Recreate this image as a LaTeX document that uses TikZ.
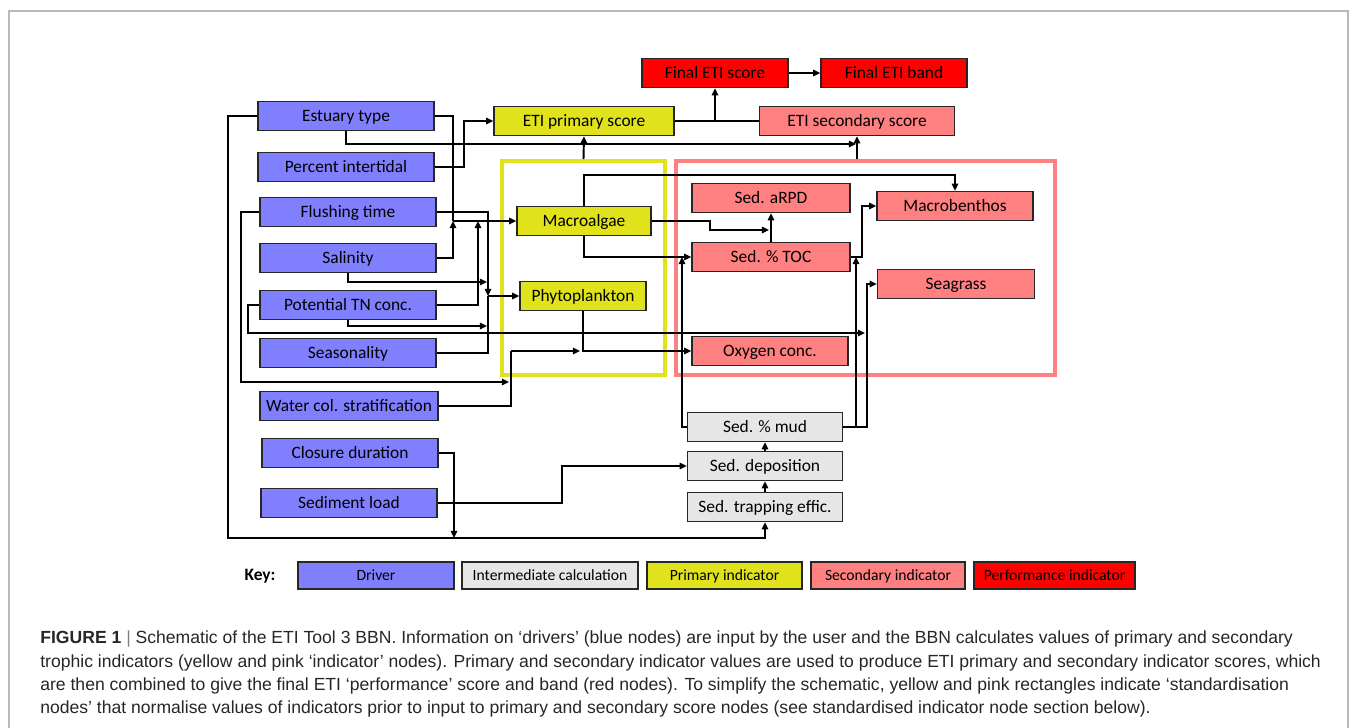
\documentclass[tikz,border=0pt]{standalone}
\usepackage{fontspec}
\setmainfont{Carlito}
\newfontfamily\captionfont{Liberation Sans}
\usepackage{tikz}
\usetikzlibrary{
    arrows.meta,
    positioning,
    calc
}
\usepackage{xcolor}
\definecolor{driverblue}{RGB}{128,128,255}
\definecolor{calcgray}{RGB}{230,230,230}
\definecolor{primyellow}{RGB}{224,226,28}
\definecolor{secpink}{RGB}{255,128,128}
\definecolor{perfred}{RGB}{255,0,0}
\definecolor{framegray}{RGB}{185,185,185}
\tikzstyle{box} = [
    rectangle,
    draw=black!85,
    line width=0.9pt,
    minimum height=0.58cm,
    inner sep=0pt,
    text height=6.4pt,
    text depth=0pt,
    text centered,
    font=\fontsize{9.9}{11}\selectfont
]
\tikzstyle{driver} = [box, fill=driverblue, minimum width=3.52cm]
\tikzstyle{calcnode} = [box, fill=calcgray, minimum width=3.1cm]
\tikzstyle{primary} = [box, fill=primyellow]
\tikzstyle{secondary} = [box, fill=secpink]
\tikzstyle{performance} = [box, fill=perfred, minimum width=2.92cm]
\tikzstyle{keybox} = [
    box,
    minimum height=0.54cm,
    text height=5.8pt,
    font=\fontsize{8.9}{10}\selectfont
]
\tikzstyle{groupframe} = [
    rectangle,
    line width=0.08cm,
    minimum height=4.28cm,
    inner sep=0pt
]
\tikzstyle{link} = [
    line width=1.1pt,
    draw=black
]
\tikzstyle{arrow} = [
    link,
    -{Triangle[length=4pt,width=3.6pt]}
]
\tikzstyle{captionline} = [
    anchor=base west,
    inner sep=0pt,
    font=\captionfont\fontsize{10}{12}\selectfont,
    text=black!85
]

\begin{document}
\begin{tikzpicture}[x=0.02cm, y=-0.02cm]
        \useasboundingbox (0,0) rectangle (1355,727);
        \clip (0,0) rectangle (1355,727);
        % outer frame of the figure
        \draw[framegray, line width=0.7pt] (9,740) -- (9,11) -- (1348,11) -- (1348,740);

        % group frames (standardisation nodes)
        \node[groupframe, draw=primyellow, minimum width=3.26cm] (primframe) at (583.5,268) {};
        \node[groupframe, draw=secpink, minimum width=7.58cm] (secframe) at (865.5,268) {};

        % performance and score nodes (top)
        \node[performance] (finalscore) at (715,73) {Final ETI score};
        \node[performance] (finalband) at (894,73) {Final ETI band};
        \node[primary, minimum width=3.6cm] (primscore) at (584,121) {ETI primary score};
        \node[secondary, minimum width=3.9cm] (secscore) at (857,121) {ETI secondary score};

        % drivers (left column)
        \node[driver] (estuary) at (346,116) {Estuary type};
        \node[driver] (intertidal) at (346,167) {Percent intertidal};
        \node[driver] (flushing) at (348,212) {Flushing time};
        \node[driver] (salinity) at (348,258) {Salinity};
        \node[driver] (tn) at (348,305) {Potential TN conc.};
        \node[driver] (seasonality) at (348,353) {Seasonality};
        \node[driver, minimum width=3.56cm] (strat) at (349,406) {Water col. stratification};
        \node[driver] (closure) at (350,453) {Closure duration};
        \node[driver] (sedload) at (349,503) {Sediment load};

        % primary indicators
        \node[primary, minimum width=2.68cm] (macroalgae) at (584,221) {Macroalgae};
        \node[primary, minimum width=2.52cm] (phyto) at (583,296) {Phytoplankton};

        % secondary indicators
        \node[secondary, minimum width=3.16cm] (arpd) at (771,198) {Sed. aRPD};
        \node[secondary, minimum width=3.16cm] (toc) at (771,257) {Sed. \% TOC};
        \node[secondary, minimum width=3.12cm] (oxygen) at (770,351) {Oxygen conc.};
        \node[secondary, minimum width=3.12cm] (macrobenthos) at (955,206) {Macrobenthos};
        \node[secondary, minimum width=3.14cm] (seagrass) at (956,284) {Seagrass};

        % intermediate calculations
        \node[calcnode] (mud) at (765,427) {Sed. \% mud};
        \node[calcnode] (deposition) at (765,466) {Sed. deposition};
        \node[calcnode] (trap) at (765,507) {Sed. trapping effic.};

        % junction points
        \coordinate (jmacroA) at (453,221);
        \coordinate (jmacroB) at (478,221);
        \coordinate (jphyto) at (488,296);
        \coordinate (jox) at (511,351);
        \coordinate (jphytox) at (580,351);
        \coordinate (jstrat) at (509,382);
        \coordinate (jsea) at (865,333);
        \coordinate (jtoc) at (682,257);
        \coordinate (jmacrob) at (856,257);
        \coordinate (jarpd) at (769,230);
        \coordinate (jsec) at (856,144);
        \coordinate (jfinal) at (715,121);
        \coordinate (jbottom) at (454,538);
        \coordinate (topbend) at (584,175);

        % drivers into macroalgae and phytoplankton
        \draw[link] (estuary.east) -| (jmacroA);
        \draw[arrow] (salinity.east) -| (jmacroA);
        \draw[arrow] (tn.east) -| (jmacroB);
        \draw[arrow] (jmacroA) -- (macroalgae.west);
        \draw[arrow] (flushing.east) -| (jphyto);
        \draw[link] (seasonality.east) -| (jphyto);
        \draw[arrow] (salinity.south) |- (487,282);
        \draw[arrow] (tn.south) |- (487,326);
        \draw[arrow] (jphyto) -- (phyto.west);

        % oxygen inputs
        \draw[arrow] (flushing.west) -| (241,382) -- (jstrat);
        \draw[link] (strat.east) -| (jox);
        \draw[arrow] (jox) -- (jphytox);
        \draw[arrow] (phyto.south) |- (oxygen.west);

        % seagrass inputs
        \draw[arrow] (tn.west) -| (248,333) -- (jsea);
        \draw[arrow] (mud.east) -| (867,284) -- (seagrass.west);

        % macrobenthos and sediment indicators
        \draw[arrow] (mud.east) -| (jmacrob);
        \draw[arrow] (toc.east) -| (862,206) -- (macrobenthos.west);
        \draw[arrow] (mud.west) -| (jtoc);
        \draw[arrow] (macroalgae.south) |- (toc.west);
        \draw[arrow] (macroalgae.north) -- (topbend) -| (macrobenthos.north);
        \draw[arrow] (macroalgae.east) -- (710,221) |- (jarpd);
        \draw[arrow] (toc.north) -- (arpd.south);

        % scores
        \draw[arrow] (primframe.north) -- (primscore.south);
        \draw[arrow] (secscore.south |- secframe.north) -- (secscore.south);
        \draw[arrow] (estuary.south) |- (jsec);
        \draw[arrow] (intertidal.east) -| (464,121) -- (primscore.west);
        \draw[link] (primscore.east) -- (secscore.west);
        \draw[arrow] (jfinal) -- (finalscore.south);
        \draw[arrow] (finalscore) -- (finalband);

        % sediment chain
        \draw[arrow] (estuary.west) -| (228,538) -| (trap.south);
        \draw[arrow] (closure.east) -| (jbottom);
        \draw[arrow] (sedload.east) -| (562,466) -- (deposition.west);
        \draw[arrow] (trap) -- (deposition);
        \draw[arrow] (deposition) -- (mud);

        % key
        \node[font=\fontsize{9.9}{11}\selectfont\bfseries] (keylabel) at (260,576) {Key:};
        \node[keybox, fill=driverblue, minimum width=3.12cm] (keydriver) at (376,575.5) {Driver};
        \node[keybox, fill=calcgray, minimum width=3.52cm] (keycalc) at (550,575.5) {Intermediate calculation};
        \node[keybox, fill=primyellow, minimum width=3.1cm] (keyprim) at (724.5,575.5) {Primary indicator};
        \node[keybox, fill=secpink, minimum width=3.08cm] (keysec) at (888,575.5) {Secondary indicator};
        \node[keybox, fill=perfred, minimum width=3.22cm] (keyperf) at (1054.5,575.5) {Performance indicator};

        % caption
        \node[captionline] (cap1) at (40,643) {\textbf{FIGURE 1} {\color{black!50}|} Schematic of the ETI Tool 3 BBN. Information on ‘drivers’ (blue nodes) are input by the user and the BBN calculates values of primary and secondary};
        \node[captionline] (cap2) at (40,667) {trophic indicators (yellow and pink ‘indicator’ nodes). Primary and secondary indicator values are used to produce ETI primary and secondary indicator scores, which};
        \node[captionline] (cap3) at (40,690) {are then combined to give the final ETI ‘performance’ score and band (red nodes). To simplify the schematic, yellow and pink rectangles indicate ‘standardisation};
        \node[captionline] (cap4) at (40,713) {nodes’ that normalise values of indicators prior to input to primary and secondary score nodes (see standardised indicator node section below).};
    \end{tikzpicture}
\end{document}
